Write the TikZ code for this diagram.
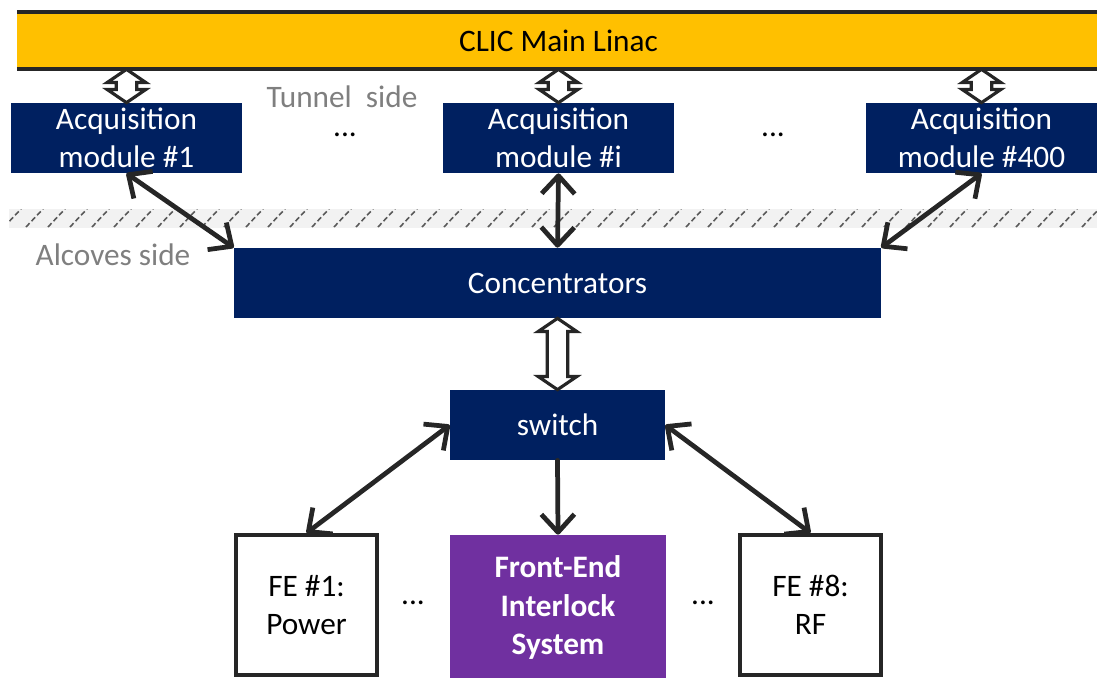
\documentclass[tikz,border=0pt]{standalone}
\usepackage{fontspec}
\setmainfont{Carlito}
\usetikzlibrary{calc,arrows.meta,positioning}

\definecolor{navy}{HTML}{002060}
\definecolor{linacyellow}{HTML}{FFC000}
\definecolor{fepurple}{HTML}{7030A0}
\definecolor{darkline}{HTML}{262626}
\definecolor{sidegrey}{HTML}{7F7F7F}
\definecolor{bandgrey}{HTML}{F2F2F2}
\definecolor{slashgrey}{HTML}{595959}

\tikzset{
  every node/.style={font=\fontsize{17.8pt}{21.5pt}\selectfont, inner sep=0pt},
  navybox/.style={fill=navy, text=white, align=center, minimum height=1.4cm},
  acqbox/.style={navybox, minimum width=4.62cm},
  febox/.style={draw=darkline, line width=2.3pt, fill=white, align=center,
    minimum width=2.82cm, minimum height=2.8cm},
  sidetext/.style={text=sidegrey},
  barb/.tip={Straight Barb[length=0.36cm,width=0.66cm,line join=round]},
  link/.style={draw=darkline, line width=2.7pt, line cap=round, barb-barb},
  fatlink/.style={draw=darkline, line width=1.8pt, fill=white, line join=miter},
  slash/.style={draw=slashgrey, line width=0.9pt, dash pattern=on 3pt off 1.6pt}
}

% hollow double arrow, vertical, from #1 (top) to #2 (bottom)
\newcommand{\fatarrow}[2]{%
  \path[fatlink] let \p1=(#1), \p2=(#2) in
    (\x1,\y1) -- (\x1+11pt,\y1-7.5pt) -- (\x1+5.8pt,\y1-7.5pt)
    -- (\x1+5.8pt,\y2+7.5pt) -- (\x1+11pt,\y2+7.5pt) -- (\x1,\y2)
    -- (\x1-11pt,\y2+7.5pt) -- (\x1-5.8pt,\y2+7.5pt) -- (\x1-5.8pt,\y1-7.5pt)
    -- (\x1-11pt,\y1-7.5pt) -- cycle;}

\begin{document}
\begin{tikzpicture}[x=0.02cm,y=-0.02cm]
  \useasboundingbox (0,0) rectangle (1097,677);

  % main linac
  \node[fill=linacyellow, minimum width=21.66cm, minimum height=1.14cm] (linac) at (558.5,40.5) {CLIC Main Linac};
  \draw[darkline, line width=2.2pt] (linac.north west) -- (linac.north east);
  \draw[darkline, line width=2.2pt] (linac.south west) -- (linac.south east);

  % tunnel / alcoves separation
  \begin{scope}
    \clip (9,209) rectangle (1097,228);
    \fill[bandgrey] (9,209) rectangle (1097,228);
    \foreach \x in {4,26,...,1100}
      \draw[slash] (\x,227) -- ++(17,-18);
  \end{scope}

  % acquisition modules
  \node[acqbox] (acq1) at (126.5,138) {Acquisition\\module \#1};
  \node[acqbox] (acqi) at (558.5,138) {Acquisition\\module \#i};
  \node[acqbox] (acq400) at (981.5,138) {Acquisition\\module \#400};
  \node (dots1) at (345,135) {...};
  \node (dots2) at (773,135) {...};
  \node[sidetext] (tunnel) at (342,97) {Tunnel\ \ side};
  \node[sidetext] (alcoves) at (113,255) {Alcoves side};

  \node[navybox, minimum width=12.94cm] (conc) at (557.5,283) {Concentrators};
  \node[navybox, minimum width=4.3cm] (switch) at (557.5,425) {switch};

  % front-ends
  \node[febox] (fe1) at (306.5,605) {FE \#1:\\Power};
  \node[febox] (fe8) at (810.5,605) {FE \#8:\\RF};
  \node[fill=fepurple, text=white, align=center, minimum width=4.32cm, minimum height=2.9cm,
    font=\fontsize{17.8pt}{22pt}\selectfont\bfseries] (fis) at (558,607.5) {Front-End\\Interlock\\System};
  \node (dots3) at (413,603) {...};
  \node (dots4) at (703,603) {...};

  % links
  \fatarrow{acq1.north |- linac.south}{acq1.north}
  \fatarrow{acqi.north |- linac.south}{acqi.north}
  \fatarrow{acq400.north |- linac.south}{acq400.north}
  \fatarrow{conc.south}{switch.north}

  \draw[link] (acq1.south) -- (conc.north west);
  \draw[link] (acqi.south) -- (conc.north);
  \draw[link] (acq400.south) -- (conc.north east);
  \draw[link] (switch.west) -- (fe1.north);
  \draw[link] (switch.east) -- (fe8.north);
  \draw[link, barb-] (fis.north) -- (switch.south);
\end{tikzpicture}
\end{document}
